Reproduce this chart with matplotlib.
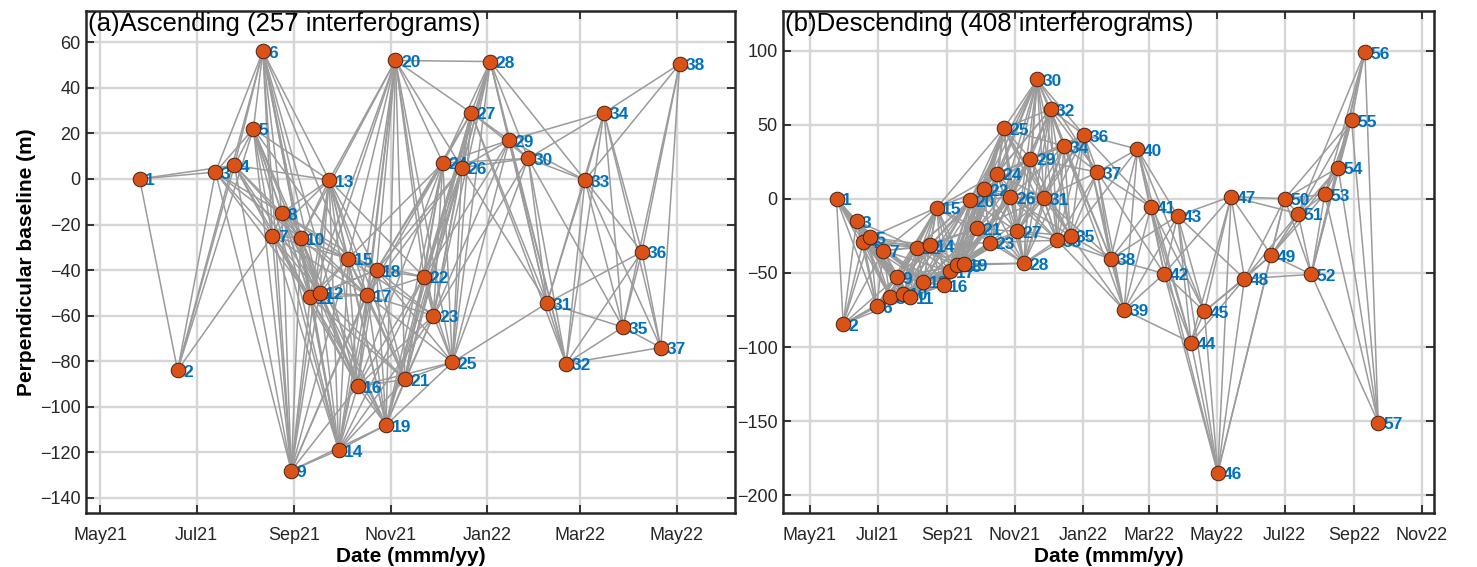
import numpy as np
import pandas as pd
import matplotlib
matplotlib.use('Agg')
import matplotlib.pyplot as plt
import matplotlib.dates as mdates
from matplotlib.transforms import offset_copy

plt.rcParams['font.family'] = ['Liberation Sans', 'DejaVu Sans']

# acquisition dates and perpendicular baselines (m)
asc_dates = ['2021-05-26', '2021-06-19', '2021-07-13', '2021-07-25', '2021-08-06', '2021-08-12',
             '2021-08-18', '2021-08-24', '2021-08-30', '2021-09-05', '2021-09-11', '2021-09-17',
             '2021-09-23', '2021-09-29', '2021-10-05', '2021-10-11', '2021-10-17', '2021-10-23',
             '2021-10-29', '2021-11-04', '2021-11-10', '2021-11-22', '2021-11-28', '2021-12-04',
             '2021-12-10', '2021-12-16', '2021-12-22', '2022-01-03', '2022-01-15', '2022-01-27',
             '2022-02-08', '2022-02-20', '2022-03-04', '2022-03-16', '2022-03-28', '2022-04-09',
             '2022-04-21', '2022-05-03']
asc_bperp = [0, -84, 3, 6, 22, 56, -25, -15, -128, -26, -52, -50, -0.5, -119, -35, -91, -51, -40,
             -108, 52, -88, -43, -60, 7, -80.5, 5, 29, 51.5, 17, 9, -54.5, -81, -0.5, 29, -65, -32,
             -74, 50.5]

desc_dates = ['2021-05-25', '2021-05-31', '2021-06-12', '2021-06-18', '2021-06-24', '2021-06-30',
              '2021-07-06', '2021-07-12', '2021-07-18', '2021-07-24', '2021-07-30', '2021-08-05',
              '2021-08-11', '2021-08-17', '2021-08-23', '2021-08-29', '2021-09-04', '2021-09-10',
              '2021-09-16', '2021-09-22', '2021-09-28', '2021-10-04', '2021-10-10', '2021-10-16',
              '2021-10-22', '2021-10-28', '2021-11-03', '2021-11-09', '2021-11-15', '2021-11-21',
              '2021-11-27', '2021-12-03', '2021-12-09', '2021-12-15', '2021-12-21', '2022-01-02',
              '2022-01-14', '2022-01-26', '2022-02-07', '2022-02-19', '2022-03-03', '2022-03-15',
              '2022-03-27', '2022-04-08', '2022-04-20', '2022-05-02', '2022-05-14', '2022-05-26',
              '2022-06-19', '2022-07-01', '2022-07-13', '2022-07-25', '2022-08-06', '2022-08-18',
              '2022-08-30', '2022-09-11', '2022-09-23']
desc_bperp = [0, -84.5, -15, -29, -26, -72.5, -35, -66.5, -53, -64,
              -66.5, -33, -56, -31.5, -6, -58.5, -49, -45, -44, -1,
              -20, 6.5, -29.5, 17, 47.5, 1, -22, -43.5, 27, 80.5,
              0.5, 60.5, -28, 35.5, -25, 43, 18, -40.5, -75, 33.5,
              -5.5, -50.5, -11.5, -97, -76, -185, 1.5, -54, -38, 0,
              -10, -51, 3, 21, 53, 99, -151]

# interferogram pairs: every pair with temporal baseline <= 60 days (257 asc, 408 desc)
max_dt_days = 60

fig = plt.figure(figsize=(14.77, 5.67), dpi=100)
ax1 = fig.add_axes([86 / 1477, 54 / 567, 649 / 1477, 502 / 567])
ax2 = fig.add_axes([783 / 1477, 54 / 567, 651 / 1477, 502 / 567])


def draw_network(ax, dates, bperp):
    t = pd.to_datetime(dates)
    b = np.array(bperp, dtype=float)
    for i in range(len(t)):
        for j in range(i + 1, len(t)):
            if (t[j] - t[i]).days <= max_dt_days:
                ax.plot([t[i], t[j]], [b[i], b[j]], color='#9b9b9b', lw=1.1, zorder=2)
    ax.plot(t, b, 'o', mfc='#D95319', mec='#4a2010', ms=10.5, mew=0.7, zorder=4)
    tr = offset_copy(ax.transData, fig=fig, x=5.5, y=-2, units='dots')
    for k in range(len(t)):
        ax.text(t[k], b[k], str(k + 1), transform=tr, color='#0072BD', fontweight='bold',
                fontsize=12.5, ha='left', va='center', zorder=3)


def style(ax):
    ax.xaxis.set_major_locator(mdates.MonthLocator(bymonth=[1, 3, 5, 7, 9, 11]))
    ax.xaxis.set_major_formatter(mdates.DateFormatter('%b%y'))
    ax.tick_params(direction='in', top=True, right=True, length=6, width=1.3,
                   labelsize=13, colors='#262626')
    ax.tick_params(axis='x', pad=10)
    ax.tick_params(axis='y', pad=4)
    ax.grid(True, color='#d6d6d6', lw=1.7)
    ax.set_axisbelow(True)
    for s in ax.spines.values():
        s.set_linewidth(1.8)
        s.set_color('#262626')
    ax.set_xlabel('Date (mmm/yy)', fontsize=15, fontweight='bold', labelpad=2)


draw_network(ax1, asc_dates, asc_bperp)
style(ax1)
ax1.set_xlim(pd.Timestamp('2021-04-22'), pd.Timestamp('2022-06-07'))
ax1.set_ylim(-146.6, 73.7)
ax1.set_yticks(np.arange(-140, 61, 20))
ax1.set_ylabel('Perpendicular baseline (m)', fontsize=15, fontweight='bold', labelpad=3)
ax1.text(0.003, 0.998, '(a)Ascending (257 interferograms)', transform=ax1.transAxes,
         ha='left', va='top', fontsize=18.5, zorder=5)

draw_network(ax2, desc_dates, desc_bperp)
style(ax2)
ax2.set_xlim(pd.Timestamp('2021-04-07'), pd.Timestamp('2022-11-12'))
ax2.set_ylim(-212, 126.7)
ax2.set_yticks(np.arange(-200, 101, 50))
ax2.text(0.003, 0.998, '(b)Descending (408 interferograms)', transform=ax2.transAxes,
         ha='left', va='top', fontsize=18.5, zorder=5)

fig.savefig('out.png', dpi=100)
